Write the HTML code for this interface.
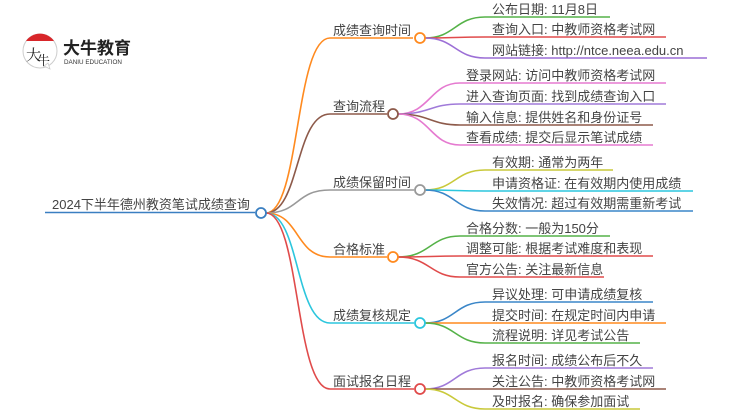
<!DOCTYPE html>
<html><head><meta charset="utf-8"><style>
html,body{margin:0;padding:0;background:#fff;}
svg{display:block;}
text{font-family:"Liberation Sans","Noto Sans CJK SC",sans-serif;font-size:13px;fill:#444;}
</style></head><body>
<svg width="750" height="410" viewBox="0 0 750 410" xmlns="http://www.w3.org/2000/svg">
<!-- logo -->
<g>
<circle cx="40" cy="51" r="17" fill="#fff" stroke="#ccc" stroke-width="1"/>
<path d="M26 41 A17 17 0 0 1 54 41 Z" fill="#d8262a"/>
<path d="M44 66 L50 69 L48 63 Z" fill="#fff" stroke="#ccc" stroke-width="0.8"/>
<text x="26" y="60" style="font-size:15px;fill:#222;font-family:'Noto Serif CJK SC',serif;">大</text>
<text x="37" y="65" style="font-size:13px;fill:#222;font-family:'Noto Serif CJK SC',serif;">牛</text>
<text x="63" y="54" style="font-size:17px;font-weight:bold;fill:#222;">大牛教育</text>
<text x="64" y="64" style="font-size:6.3px;fill:#333;">DANIU EDUCATION</text>
</g>
<g fill="none" stroke-width="1.6">
<!-- root -->
<path d="M45 212.5 H255" stroke="#3a7fc1"/>
<!-- branches -->
<path d="M266 213 C300 213 295 38 330 38 H413" stroke="#ff8a1f"/>
<path d="M266 213 C300 213 295 114 330 114 H387" stroke="#8d5a4a"/>
<path d="M266 213 C300 213 295 190 330 190 H414" stroke="#999"/>
<path d="M266 213 C300 213 295 257 330 257 H387" stroke="#ff8a1f"/>
<path d="M266 213 C300 213 295 323 330 323 H414" stroke="#2cc6dd"/>
<path d="M266 213 C300 213 295 389 330 389 H414" stroke="#e04b4b"/>
<!-- group1 -->
<path d="M425 38 C455 38 455 17 485 17 H610" stroke="#55b248"/>
<path d="M425 38 C455 38 455 37 485 37 H666" stroke="#e04b4b"/>
<path d="M425 38 C455 38 455 58 485 58 H707" stroke="#9c6fd6"/>
<!-- group2 -->
<path d="M398 114 C430 114 430 83 460 83 H666" stroke="#e57ad0"/>
<path d="M398 114 C430 114 430 104 460 104 H666" stroke="#a07ad9"/>
<path d="M398 114 C430 114 430 125 460 125 H653" stroke="#8d5a4a"/>
<path d="M398 114 C430 114 430 145 460 145 H653" stroke="#e57ad0"/>
<!-- group3 -->
<path d="M425 190 C455 190 455 170 485 170 H613" stroke="#c9c93a"/>
<path d="M425 190 C455 190 455 191 485 191 H693" stroke="#2cc6dd"/>
<path d="M425 190 C455 190 455 211 485 211 H693" stroke="#3a86c8"/>
<!-- group4 -->
<path d="M398 257 C430 257 430 236 460 236 H610" stroke="#55b248"/>
<path d="M398 257 C430 257 430 256 460 256 H653" stroke="#e04b4b"/>
<path d="M398 257 C430 257 430 277 460 277 H604" stroke="#e04b4b"/>
<!-- group5 -->
<path d="M425 323 C455 323 455 302 485 302 H653" stroke="#3a86c8"/>
<path d="M425 323 C455 323 455 323 485 323 H666" stroke="#ff8a1f"/>
<path d="M425 323 C455 323 455 343 485 343 H640" stroke="#55b248"/>
<!-- group6 -->
<path d="M425 389 C455 389 455 368 485 368 H653" stroke="#a07ad9"/>
<path d="M425 389 C455 389 455 389 485 389 H666" stroke="#8d5a4a"/>
<path d="M425 389 C455 389 455 409 485 409 H640" stroke="#c9c93a"/>
</g>
<!-- circles -->
<g fill="#fff" stroke-width="1.8">
<circle cx="261" cy="213" r="5" stroke="#3a7fc1"/>
<circle cx="420" cy="38" r="5" stroke="#ff8a1f"/>
<circle cx="393" cy="114" r="5" stroke="#8d5a4a"/>
<circle cx="420" cy="190" r="5" stroke="#999"/>
<circle cx="393" cy="257" r="5" stroke="#ff8a1f"/>
<circle cx="420" cy="323" r="5" stroke="#2cc6dd"/>
<circle cx="420" cy="389" r="5" stroke="#e04b4b"/>
</g>
<text x="52" y="209">2024下半年德州教资笔试成绩查询</text>
<text x="333" y="35">成绩查询时间</text>
<text x="333" y="111">查询流程</text>
<text x="333" y="187">成绩保留时间</text>
<text x="333" y="254">合格标准</text>
<text x="333" y="320">成绩复核规定</text>
<text x="333" y="386">面试报名日程</text>

<text x="492" y="14">公布日期: 11月8日</text>
<text x="492" y="34">查询入口: 中教师资格考试网</text>
<text x="492" y="55">网站链接: http://ntce.neea.edu.cn</text>

<text x="466" y="80">登录网站: 访问中教师资格考试网</text>
<text x="466" y="101">进入查询页面: 找到成绩查询入口</text>
<text x="466" y="122">输入信息: 提供姓名和身份证号</text>
<text x="466" y="142">查看成绩: 提交后显示笔试成绩</text>

<text x="492" y="167">有效期: 通常为两年</text>
<text x="492" y="188">申请资格证: 在有效期内使用成绩</text>
<text x="492" y="208">失效情况: 超过有效期需重新考试</text>

<text x="466" y="233">合格分数: 一般为150分</text>
<text x="466" y="253">调整可能: 根据考试难度和表现</text>
<text x="466" y="274">官方公告: 关注最新信息</text>

<text x="492" y="299">异议处理: 可申请成绩复核</text>
<text x="492" y="320">提交时间: 在规定时间内申请</text>
<text x="492" y="340">流程说明: 详见考试公告</text>

<text x="492" y="365">报名时间: 成绩公布后不久</text>
<text x="492" y="386">关注公告: 中教师资格考试网</text>
<text x="492" y="406">及时报名: 确保参加面试</text>
</svg>
</body></html>
